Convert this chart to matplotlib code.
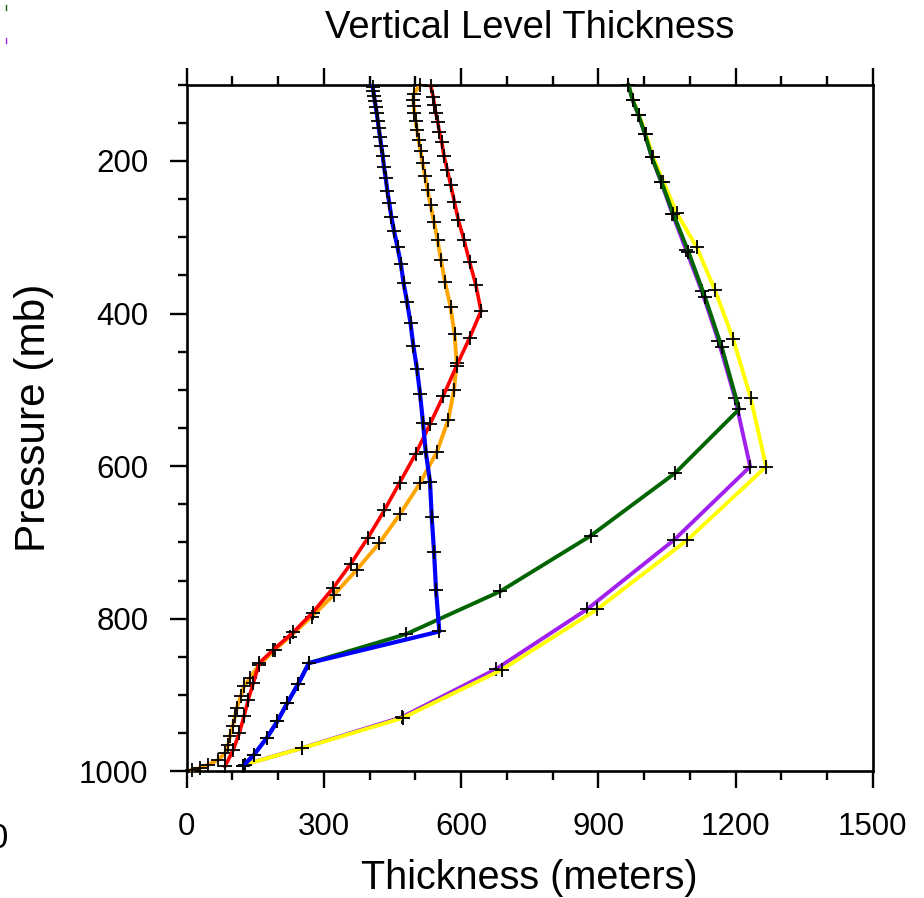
import matplotlib
matplotlib.use("Agg")
import matplotlib.pyplot as plt
from matplotlib.lines import Line2D
import numpy as np

plt.rcParams['font.family'] = ['Liberation Sans', 'DejaVu Sans']

# level pressure (mb) and layer thickness (m) for each run
p_red = [101.7, 115.7, 126.6, 136.7, 148.5, 161.6, 174.7, 193.4, 211.8, 231.4, 253.3, 277.3,
         303.5, 331.9, 362.4, 396.5, 432.2, 468.5, 507.8, 544.9, 584.2, 621.8, 657.8, 694.2,
         727.9, 759.3, 792.1, 817.6, 840.5, 858.0, 884.2, 906.0, 927.9, 949.7, 971.6, 993.4]
t_red = [533.6, 539.2, 541.4, 544.5, 548.9, 552.4, 557.6, 562.6, 569.9, 577.3, 585.2, 593.9,
         606.4, 618.4, 632.2, 643.6, 618.4, 590.0, 561.1, 532.0, 500.3, 465.5, 432.1, 396.0,
         358.8, 320.6, 275.1, 233.1, 189.4, 158.8, 145.6, 134.7, 125.3, 115.0, 101.9, 83.8]

p_orange = [100.4, 112.2, 120.0, 127.9, 137.1, 147.6, 159.3, 172.4, 186.9, 202.6, 219.6, 237.9,
            257.6, 279.9, 303.5, 329.7, 358.5, 391.2, 426.6, 464.6, 500.0, 539.3, 581.6, 622.2,
            662.8, 700.8, 735.8, 768.5, 797.0, 823.2, 840.5, 860.2, 877.6, 888.7, 901.8, 917.0,
            927.9, 941.0, 953.2, 965.0, 975.9, 984.7, 991.2, 995.6, 997.8]
t_orange = [510.2, 496.0, 495.5, 496.6, 498.1, 500.3, 503.6, 506.9, 511.3, 515.6, 521.1, 526.6,
            533.1, 540.8, 548.4, 556.1, 564.8, 576.9, 585.6, 590.4, 584.5, 572.0, 546.7, 510.2,
            466.4, 421.2, 371.7, 322.1, 273.3, 225.9, 193.1, 158.8, 138.4, 125.3, 118.1, 109.3,
            105.6, 100.6, 94.7, 91.0, 83.8, 69.1, 47.2, 29.1, 10.9]

p_blue = [102.6, 108.3, 114.4, 121.0, 128.8, 137.5, 147.2, 157.1, 168.1, 180.3, 193.4, 207.4,
          222.6, 238.9, 255.4, 272.9, 291.7, 313.0, 334.9, 359.4, 384.3, 412.6, 441.9, 472.8,
          505.2, 542.8, 580.8, 620.1, 666.0, 711.8, 762.9, 816.6, 858.0, 885.1, 910.4, 934.5,
          956.3, 978.1, 992.6]
t_blue = [406.7, 408.0, 409.6, 411.1, 413.3, 415.5, 417.7, 419.9, 422.7, 425.5, 428.6, 431.4,
          435.2, 438.7, 443.0, 447.4, 453.3, 461.0, 468.2, 474.1, 481.7, 489.4, 495.5, 503.6,
          510.2, 516.7, 522.6, 532.0, 535.7, 540.8, 545.2, 552.4, 267.4, 244.0, 220.0, 198.1,
          174.9, 147.2, 123.8]

p_green = [100.4, 120.0, 139.7, 164.6, 195.0, 227.0, 269.4, 318.8, 377.7, 444.0, 525.3, 609.0,
           691.3, 764.2, 820.0, 858.0, 885.1, 910.4, 934.5, 956.3, 978.1, 992.6]
t_green = [966, 975, 988, 1002, 1017, 1038, 1064, 1097, 1133, 1170, 1208, 1068,
           883, 685, 480, 267, 244, 220, 198, 175, 147, 124]

p_purple = [100.4, 120.0, 139.7, 164.6, 195.0, 227.0, 269.0, 316.6, 370.0, 435.4, 510.9, 600.5,
            696.5, 787.3, 866.0, 929.0, 969.4, 991.0]
t_purple = [966, 975, 987.6, 1002, 1016.8, 1037, 1062, 1092, 1126, 1162.5, 1199, 1232,
            1066, 876, 676, 470, 252, 127]

p_yellow = [100.4, 120.0, 139.7, 164.6, 195.0, 227.0, 267.7, 313.0, 369.0, 433.6, 510.0, 600.5,
            696.5, 787.3, 866.8, 930.0, 969.4, 991.0]
t_yellow = [966, 976, 989, 1004, 1020, 1042, 1071, 1115, 1155, 1195, 1233, 1267,
            1095, 898, 689, 472, 253, 128]

x_major = [0, 300, 600, 900, 1200, 1500]
y_major = [200, 400, 600, 800, 1000]

fig = plt.figure(figsize=(9.24, 8.98), dpi=100)
ax = fig.add_axes([186.7/924, 1 - 771.4/898, 686/924, 686.7/898])

series = [
    (t_purple, p_purple, '#a020f0', 2.8),
    (t_yellow, p_yellow, '#ffff00', 2.8),
    (t_green, p_green, '#006400', 2.8),
    (t_orange, p_orange, '#ffa500', 2.8),
    (t_red, p_red, '#ff0000', 2.6),
    (t_blue, p_blue, '#0000ff', 3.0),
]
for t, p, c, lw in series:
    ax.plot(t, p, color=c, lw=lw, marker='+', ms=10, mec='black', mew=1.3,
            clip_on=False, zorder=3)

ax.set_xlim(0, 1500)
ax.set_ylim(1000, 100)
ax.set_xticks(x_major)
ax.set_xticks(np.arange(0, 1501, 100), minor=True)
ax.set_yticks(y_major)
ax.set_yticks(np.arange(100, 1001, 50), minor=True)
ax.set_xticklabels([str(v) for v in x_major])
ax.set_yticklabels([str(v) for v in y_major])

ax.tick_params(which='both', direction='out', top=True, right=False, width=1.7, labelsize=22.5)
ax.tick_params(which='major', length=12.5)
ax.tick_params(which='minor', length=6.5)
ax.tick_params(axis='x', which='major', pad=17)
ax.tick_params(axis='y', which='major', pad=15)
for s in ax.spines.values():
    s.set_linewidth(1.9)

fig.text(529.7/924, 1 - 38.3/898, 'Vertical Level Thickness', ha='center', va='baseline', fontsize=27.5)
fig.text(529.7/924, 1 - 889/898, 'Thickness (meters)', ha='center', va='baseline', fontsize=28.5)
fig.text(54/924, 1 - 418/898, 'Pressure (mb)', ha='right', va='center', rotation=90, fontsize=30.5)

# leftover bits at the left edge of the original image
fig.text(8/924, 1 - 848/898, '0', ha='right', va='baseline', fontsize=25)
fig.add_artist(Line2D([6/924, 6/924], [1 - 5/898, 1 - 10/898], color='#006400', lw=1))
fig.add_artist(Line2D([6/924, 6/924], [1 - 38/898, 1 - 43/898], color='#a020f0', lw=1))

fig.savefig('out.png', dpi=100)
